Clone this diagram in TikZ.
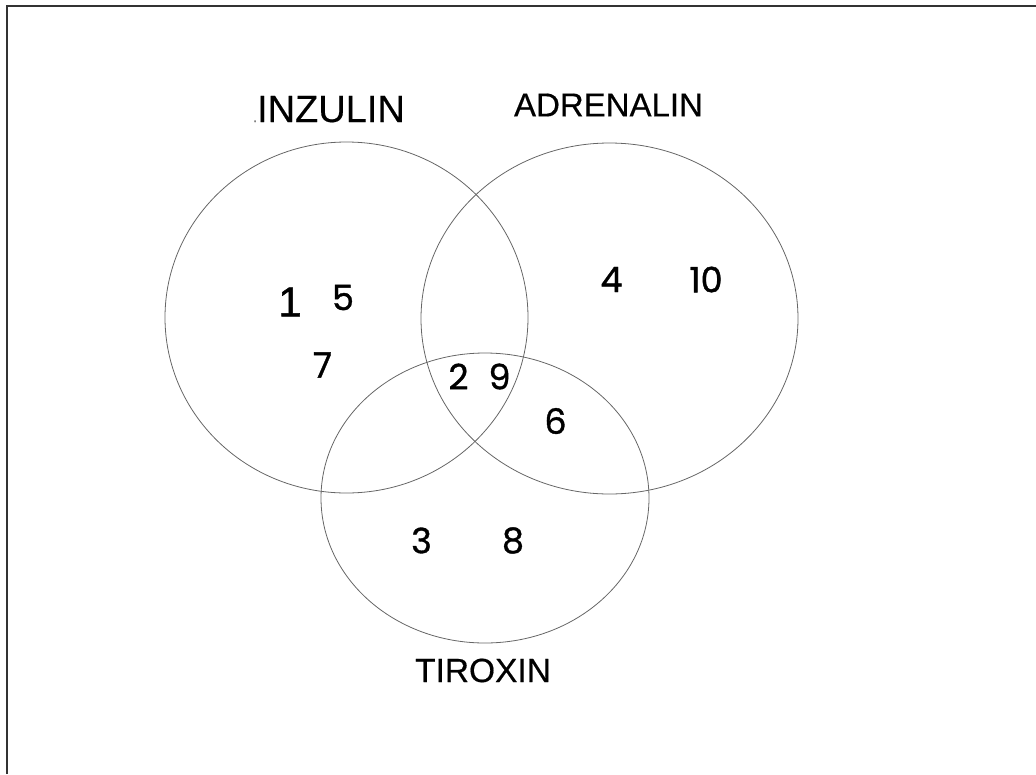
\documentclass[tikz,border=0pt]{standalone}
\usepackage{fontspec}
\setmainfont{Liberation Sans}[FakeBold=0.4]
\newfontfamily\digitfont{Poppins}[FakeBold=1.0]
\newfontfamily\onefont{Liberation Sans}[FakeBold=1.2]
\begin{document}
\begin{tikzpicture}[x=1pt,y=-1pt,
  setcircle/.style={draw=black!60,line width=0.8pt},
  setlabel/.style={inner sep=0pt,anchor=center,text=black},
  num/.style={inner sep=0pt,anchor=center,text=black,font=\digitfont\fontsize{35}{35}\selectfont}]
\useasboundingbox (0,0) rectangle (1036,774);
% frame (open on right and bottom)
\coordinate (fbl) at (7,774);
\coordinate (ftl) at (7,6);
\coordinate (ftr) at (1036,6);
\draw[black!80,line width=2pt] (fbl) -- (ftl) -- (ftr);
% sets
\draw[setcircle] (346.5,317.5) ellipse [x radius=181.5,y radius=175.5];
\draw[setcircle] (609.5,318.5) ellipse [x radius=188.5,y radius=175.5];
\draw[setcircle] (485,498) ellipse [x radius=164,y radius=145];
% labels
\node[inner sep=0pt,anchor=base west,font=\fontsize{38}{38}\selectfont] (inz) at (253,122)
  {\textcolor{black!50}{\fontsize{14}{14}\selectfont.}INZULIN};
\node[setlabel,font=\fontsize{33}{33}\selectfont] (adr) at (608.5,105) {ADRENALIN};
\node[setlabel,font=\fontsize{33.5}{33.5}\selectfont] (tir) at (483,670.5) {TIROXIN};
% numbers
\node[setlabel,font=\onefont\fontsize{42}{42}\selectfont] (n1) at (290,302) {1};
\node[num] (n5) at (343,297.5) {5};
\node[num] (n7) at (322.5,365) {7};
\node[num] (n2) at (458.5,376.5) {2};
\node[num] (n9) at (499.5,376.5) {9};
\node[num] (n6) at (555.5,421) {6};
\node[num] (n4) at (611.5,279.5) {4};
\node[num] (n10) at (706,279.5) {10};
\node[num] (n3) at (421.5,540.5) {3};
\node[num] (n8) at (513,540.5) {8};
\end{tikzpicture}
\end{document}
